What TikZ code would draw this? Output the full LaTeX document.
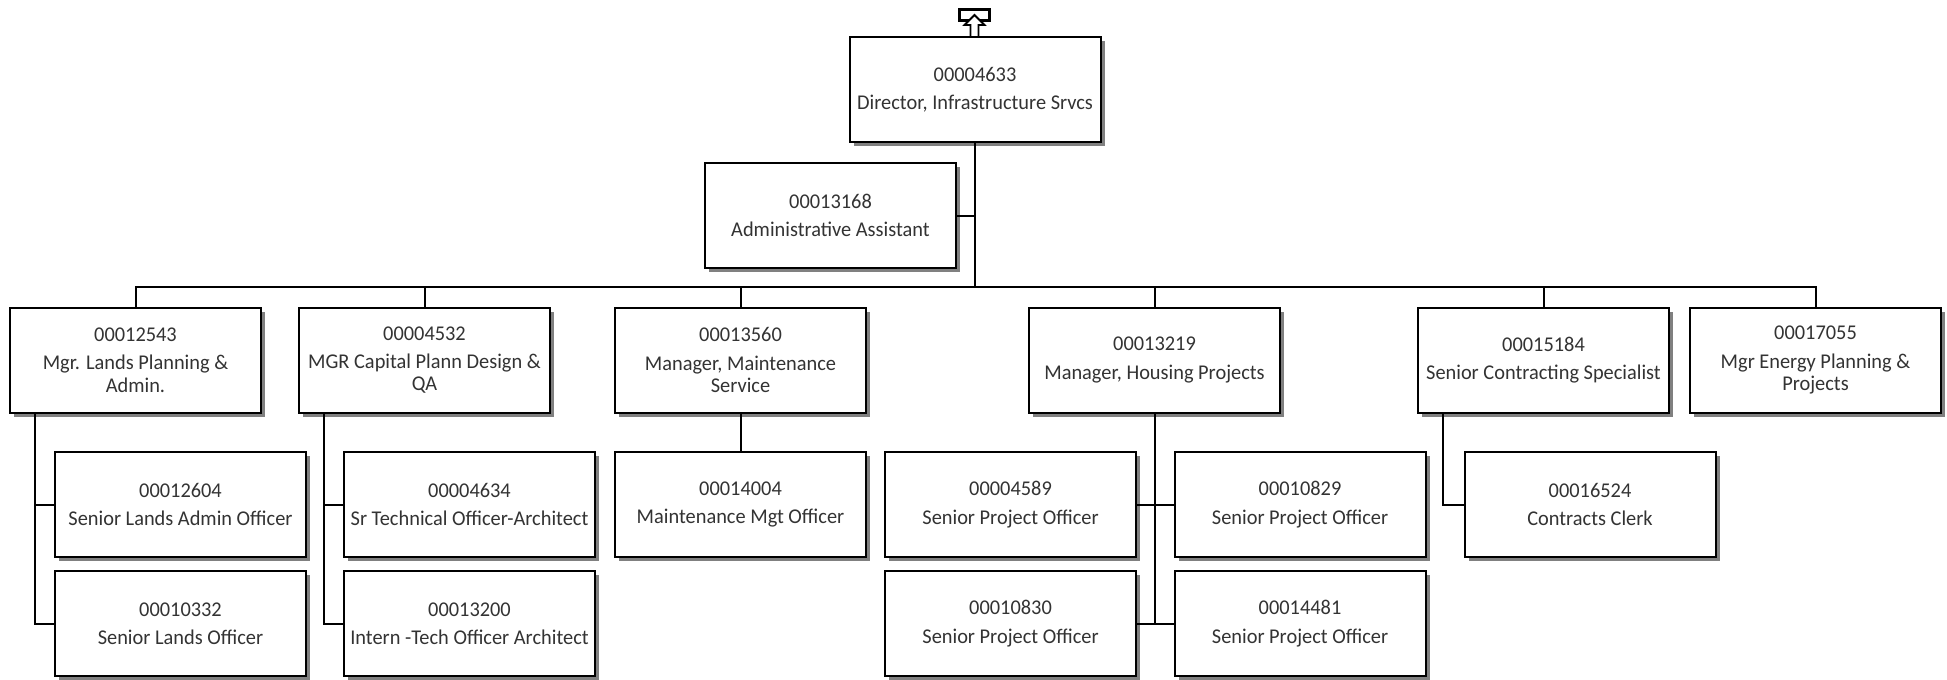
\documentclass[tikz,border=0pt]{standalone}
\usepackage{fontspec}
\setmainfont{Carlito}[FakeStretch=0.97]
\usetikzlibrary{shadows}
\tikzset{
  posbox/.style={draw=black, line width=2pt, fill=white, minimum width=251pt, minimum height=105pt,
    inner sep=0pt, align=center, text=black!80,
    font=\fontsize{21}{22.4}\selectfont,
    drop shadow={shadow xshift=4pt, shadow yshift=-4pt, fill=black!50, opacity=1}},
  link/.style={draw=black, line width=2pt},
  upicon/.style={draw=black, line width=1.8pt, fill=white}
}
\begin{document}
\begin{tikzpicture}[x=1pt,y=-1pt]
\useasboundingbox (0,0) rectangle (1947,680);
% nodes
\node[posbox] (dir) at (975,89.5) {00004633\\[6pt]Director, Infrastructure Srvcs};
\node[posbox] (adm) at (830.5,215.5) {00013168\\[6pt]Administrative Assistant};
\node[posbox] (b1) at (135.5,360) {00012543\\[6pt]Mgr. Lands Planning \&\\Admin.};
\node[posbox] (b2) at (424.5,360) {00004532\\[6pt]MGR Capital Plann Design \&\\QA};
\node[posbox] (b3) at (740.5,360) {00013560\\[6pt]Manager, Maintenance\\Service};
\node[posbox] (b4) at (1154.5,360) {00013219\\[6pt]Manager, Housing Projects};
\node[posbox] (b5) at (1543.5,360) {00015184\\[6pt]Senior Contracting Specialist};
\node[posbox] (b6) at (1815.5,360) {00017055\\[6pt]Mgr Energy Planning \&\\Projects};
\node[posbox] (c11) at (180.5,504.5) {00012604\\[6pt]Senior Lands Admin Officer};
\node[posbox] (c12) at (180.5,623.5) {00010332\\[6pt]Senior Lands Officer};
\node[posbox] (c21) at (469.5,504.5) {00004634\\[6pt]Sr Technical Officer-Architect};
\node[posbox] (c22) at (469.5,623.5) {00013200\\[6pt]Intern -Tech Officer Architect};
\node[posbox] (c31) at (740.5,504.5) {00014004\\[6pt]Maintenance Mgt Officer};
\node[posbox] (c41) at (1010.5,504.5) {00004589\\[6pt]Senior Project Officer};
\node[posbox] (c42) at (1300,504.5) {00010829\\[6pt]Senior Project Officer};
\node[posbox] (c43) at (1010.5,623.5) {00010830\\[6pt]Senior Project Officer};
\node[posbox] (c44) at (1300,623.5) {00014481\\[6pt]Senior Project Officer};
\node[posbox] (c51) at (1590,504.5) {00016524\\[6pt]Contracts Clerk};
% connectors
\coordinate (bus) at (975,287);
\draw[link] (dir.south) -- (bus);
\draw[link] (adm.east) -- (adm.east -| dir.south);
\draw[link] (b1.north) |- (bus) -| (b6.north);
\foreach \b in {b2,b3,b4,b5} {\draw[link] (\b.north) -- (\b.north |- bus);}
\coordinate (t1) at ([xshift=26pt]b1.south west);
\draw[link] (t1) |- (c12.west);
\draw[link] (t1 |- c11.west) -- (c11.west);
\coordinate (t2) at ([xshift=26pt]b2.south west);
\draw[link] (t2) |- (c22.west);
\draw[link] (t2 |- c21.west) -- (c21.west);
\draw[link] (b3.south) -- (c31.north);
\coordinate (t4) at (b4.south |- c43.east);
\draw[link] (b4.south) -- (t4);
\draw[link] (c41.east) -- (c42.west);
\draw[link] (c43.east) -- (c44.west);
\coordinate (t5) at ([xshift=26pt]b5.south west);
\draw[link] (t5) |- (c51.west);
% upward icon
\node[draw=black, line width=2.8pt, minimum width=30pt, minimum height=11pt, inner sep=0pt] (icon) at (974.5,15) {};
\draw[upicon] (974.5,15) -- (984.5,25) -- (978.5,25) -- (978.5,37) -- (970.5,37) -- (970.5,25) -- (964.5,25) -- cycle;
\end{tikzpicture}
\end{document}
